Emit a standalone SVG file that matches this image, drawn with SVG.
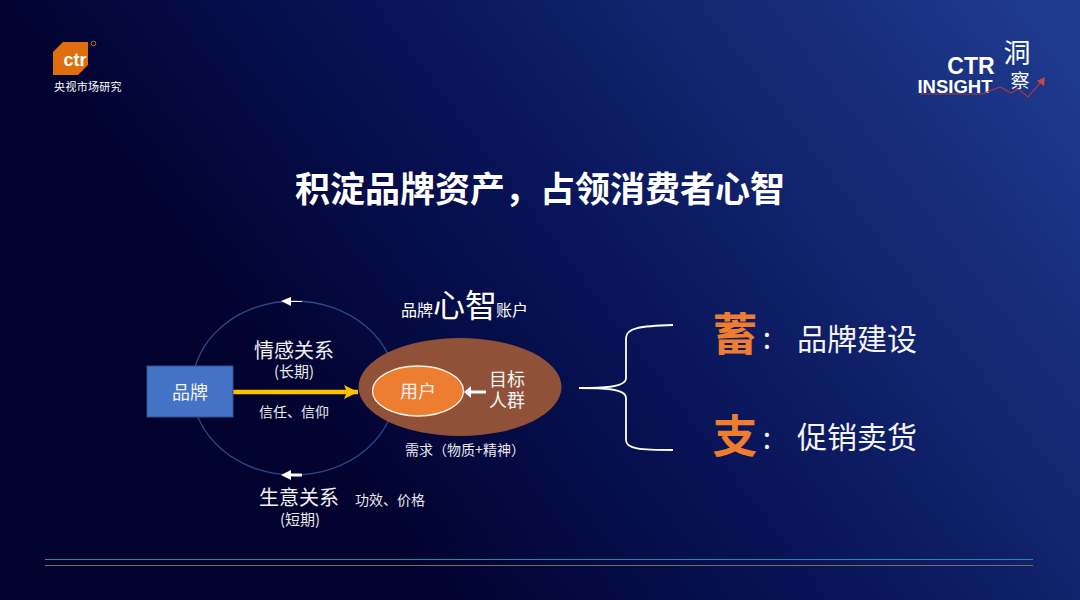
<svg xmlns="http://www.w3.org/2000/svg" width="1080" height="600" viewBox="0 0 1080 600">
<defs>
<linearGradient id="bg" gradientUnits="userSpaceOnUse" x1="330" y1="470" x2="1000" y2="-40">
<stop offset="0" stop-color="#02022e"/><stop offset="0.35" stop-color="#071254"/><stop offset="1" stop-color="#1e3a8e"/>
</linearGradient>
<linearGradient id="brace" x1="0" x2="1" y1="0" y2="0"><stop offset="0" stop-color="#fff"/><stop offset="1" stop-color="#fff"/></linearGradient>
<marker id="gold" markerUnits="userSpaceOnUse" markerWidth="14" markerHeight="14" refX="14" refY="7" orient="auto"><path d="M0 0L14 7L0 14L3 7Z" fill="#ffc000"/></marker>
</defs>
<style>
text{font-family:"Noto Sans CJK SC","Liberation Sans",sans-serif;fill:#fff;text-anchor:middle}
.s{font-size:14px;fill:#e8e8ee}
.m{font-size:20px;fill:#f2f2f5}
.n{font-size:18px;fill:#f4f4f4}
.p{font-size:15px;fill:#e8e8ee}
.big{font-size:45px;font-weight:700;fill:#ed7d31}
.r{font-size:30px;fill:#f4f4f4}
.w{fill:#fff}
</style>
<rect width="1080" height="600" fill="url(#bg)"/>
<g id="logo-ctr">
<path d="M63 42H88V65L78 75H53V52Z" fill="#df6f0d"/>
<text x="75" y="66" style="font-size:18px;font-weight:700;font-family:'Liberation Sans',sans-serif" fill="#fff">ctr</text>
<circle cx="93.500" cy="43.500" r="2.300" fill="none" stroke="#c26a2c" stroke-width="1"/>
<text x="88" y="91" style="font-size:11px;font-family:'Noto Sans CJK SC',sans-serif;letter-spacing:.3px">央视市场研究</text>
</g>
<g id="logo-insight">
<text x="971" y="74" style="font-size:23px;font-weight:700;font-family:'Liberation Sans',sans-serif">CTR</text>
<text x="955" y="92.500" style="font-size:18.500px;font-weight:700;font-family:'Liberation Sans',sans-serif">INSIGHT</text>
<text x="1017" y="63" style="font-size:27px;font-family:'Noto Sans CJK SC',sans-serif">洞</text>
<text x="1020" y="88" style="font-size:19px;font-family:'Noto Sans CJK SC',sans-serif">察</text>
<path d="M920 94H982L1000 87L1011 93L1018 89L1028 97L1042 81" fill="none" stroke="#a33a45" stroke-width="1.200"/>
<path d="M1037 81L1045 77L1044 86Z" fill="#c8483f"/>
</g>
<text id="title" x="540" y="202" style="font-size:35px;font-weight:700">积淀品牌资产，占领消费者心智</text>
<g id="connectors" fill="none">
<ellipse cx="294" cy="388" rx="102" ry="87" stroke="#2a4a86" stroke-width="1.300"/>
<line x1="233" y1="392" x2="358" y2="392" stroke="#ffc000" stroke-width="4.500" marker-end="url(#gold)"/>
<path d="M302 301H291V297L281 301L291 306V302H302Z" class="w"/>
</g>
<g id="node-account">
<ellipse cx="460" cy="387" rx="101.500" ry="49" fill="#8f5238"/>
<text x="417" y="316" style="font-size:16px" fill="#f0f0f0">品牌</text>
<text x="465" y="317" style="font-size:32px">心智</text>
<text x="512" y="316" style="font-size:16px" fill="#f0f0f0">账户</text>
<text x="507" y="386" class="n">目标</text>
<text x="507" y="407" class="n">人群</text>
<path d="M486 390.500H471V386L464 392L471 398V393.500H486Z" class="w"/>
</g>
<g id="node-user">
<ellipse cx="418" cy="391" rx="45.500" ry="25" fill="#ed7d31" stroke="#fdf3ea" stroke-width="1.300"/>
<text x="418" y="398" class="n">用户</text>
</g>
<g id="node-brand">
<rect x="147" y="366" width="86" height="51" fill="#4472c4" stroke="#2f528f" stroke-width="1"/>
<text x="190" y="399" class="n">品牌</text>
</g>
<g id="labels">
<text x="294" y="358" class="m">情感关系</text>
<text x="294" y="377" class="p">(长期)</text>
<text x="294" y="417" class="s">信任、信仰</text>
<text x="299" y="505" class="m">生意关系</text>
<text x="300" y="525" class="p">(短期)</text>
<text x="390" y="505" class="s">功效、价格</text>
<text x="465" y="455" class="s">需求（物质+精神）</text>
<path d="M302 473.500H291V470L281 475L291 480V476.500H302Z" class="w"/>
</g>
<g id="brace-right">
<path d="M579 388C600 388 626 388 626 378V338C626 328 640 326 673 325M579 388C600 388 626 388 626 398V440C626 449 640 450 673 450" fill="none" stroke="#fff" stroke-width="1.800"/>
</g>
<g id="list">
<text x="735" y="351" class="big">蓄</text>
<text x="767" y="349" class="r">:</text>
<text x="857" y="350" class="r">品牌建设</text>
<text x="735" y="453" class="big">支</text>
<text x="767" y="449" class="r">:</text>
<text x="857" y="448" class="r">促销卖货</text>
</g>
<g id="rules">
<line x1="45" y1="559.500" x2="1033" y2="559.500" stroke="#2b87a5" stroke-width="1.200"/>
<line x1="45" y1="565.500" x2="1033" y2="565.500" stroke="#7d6a5c" stroke-width="1.200"/>
</g>
</svg>
